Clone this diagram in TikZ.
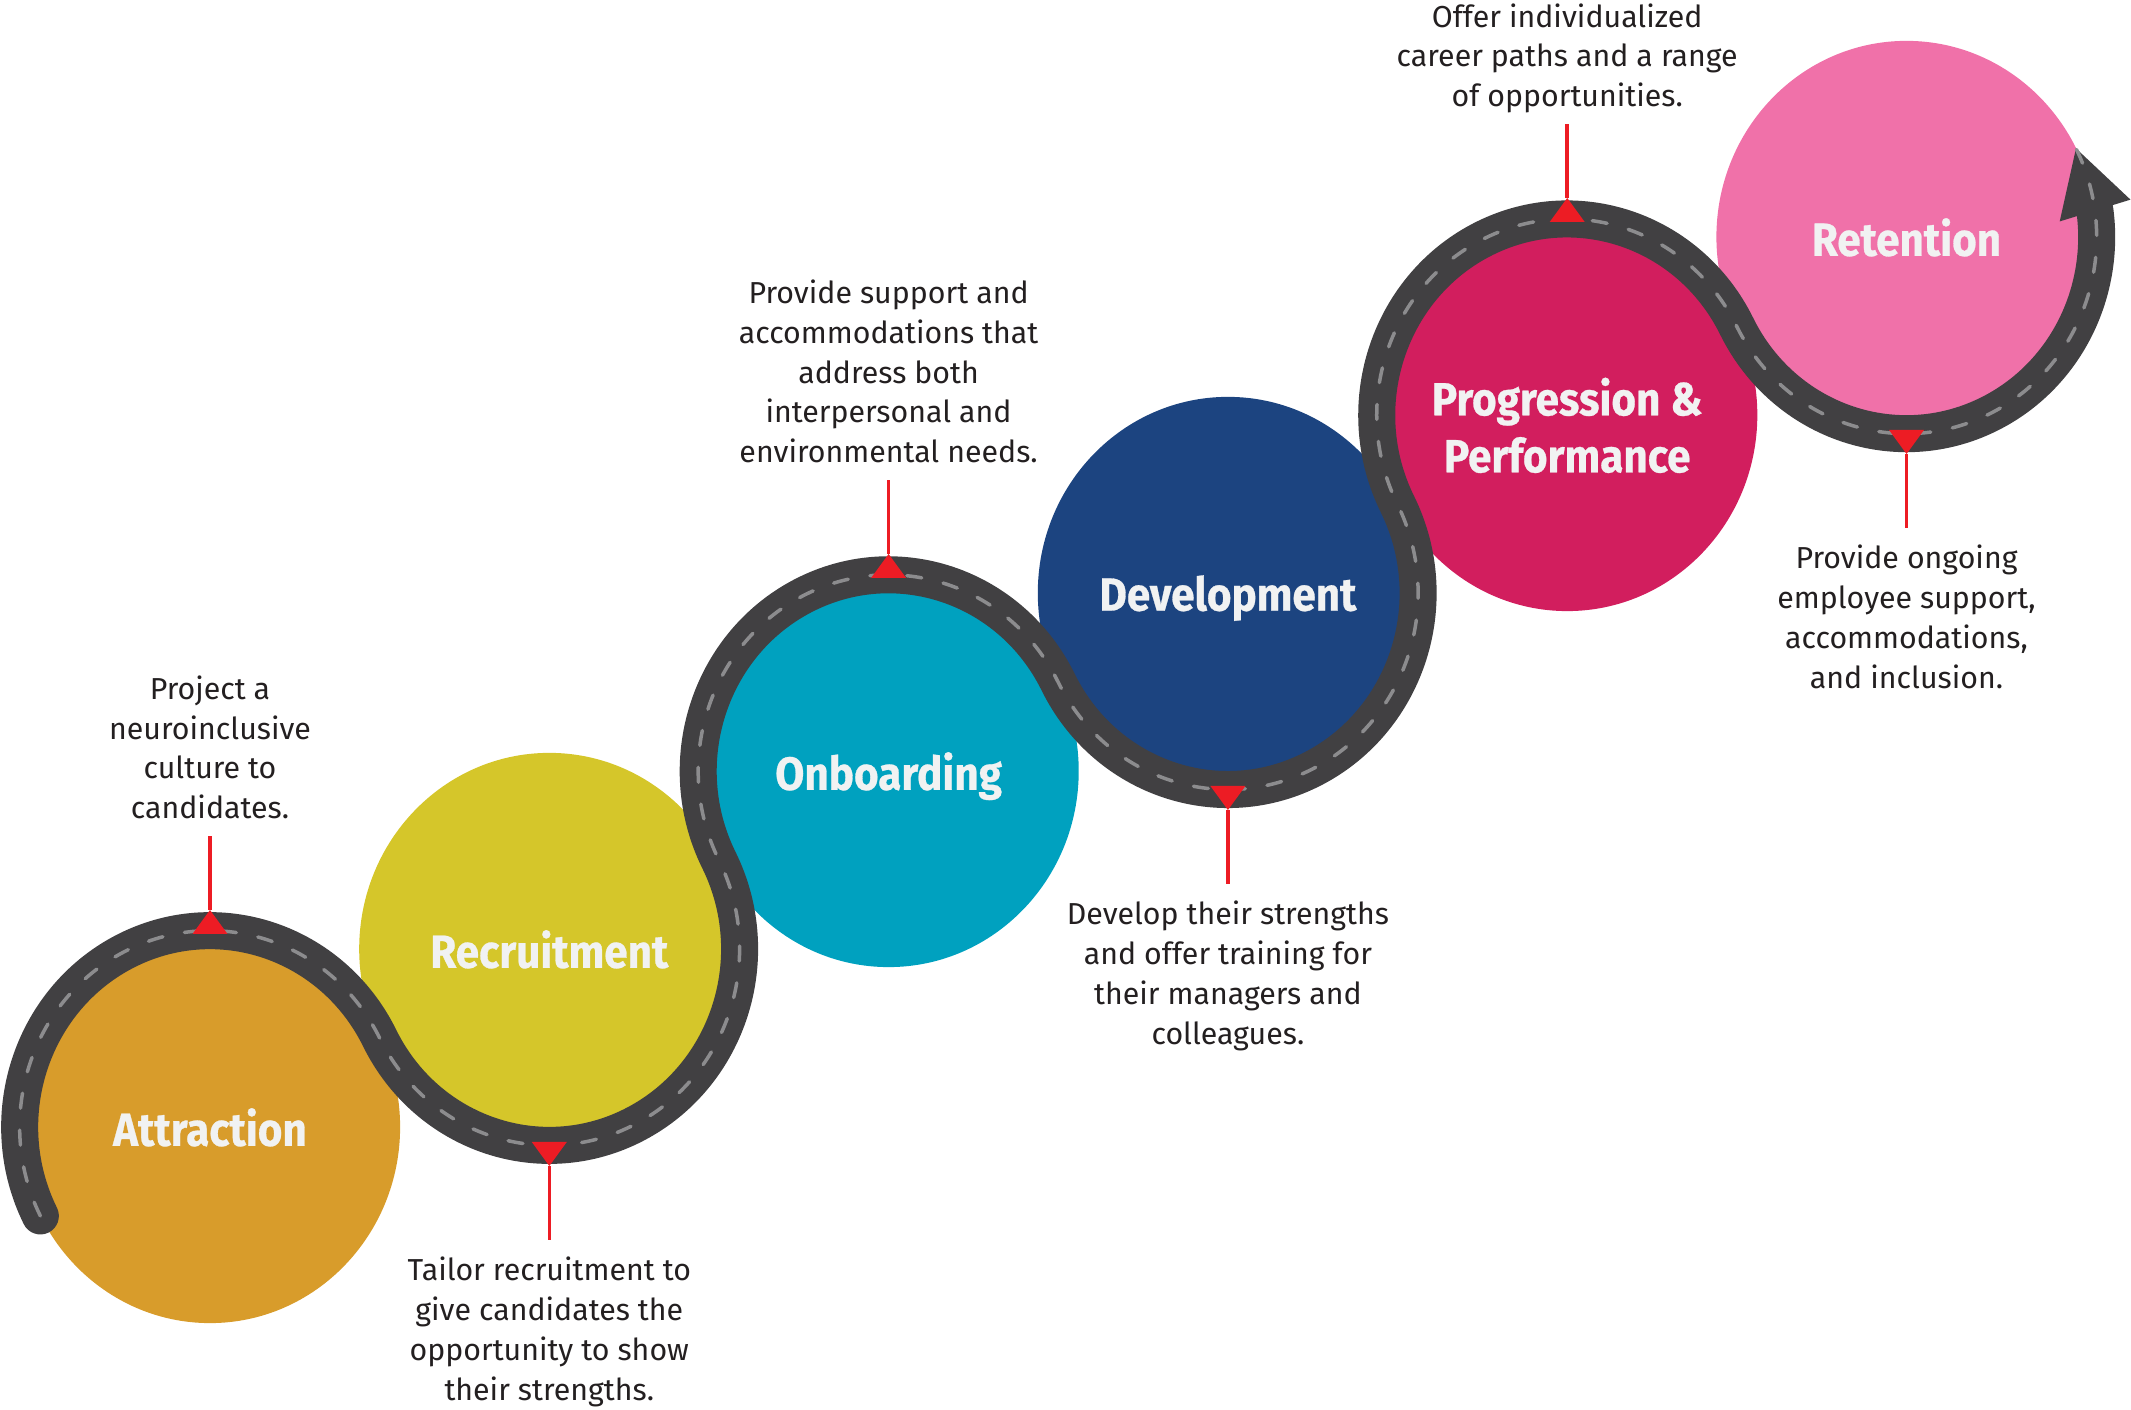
\documentclass[tikz,border=0pt]{standalone}
\usepackage{fontspec}
\setmainfont{Fira Sans}
\newfontfamily\stagefont{Fira Sans}[FakeStretch=0.91,FakeBold=0.6]
\usepackage{tikz}
\usetikzlibrary{arrows.meta,bending,positioning,calc,shapes.geometric}
\definecolor{attraction}{HTML}{D89C2B}
\definecolor{recruitment}{HTML}{D5C62A}
\definecolor{onboarding}{HTML}{00A1BF}
\definecolor{development}{HTML}{1C4480}
\definecolor{progression}{HTML}{D21E5E}
\definecolor{retention}{HTML}{F071A9}
\definecolor{asphalt}{HTML}{414042}
\definecolor{lane}{HTML}{8C8C8E}
\definecolor{pinred}{HTML}{ED1C24}
\definecolor{ink}{HTML}{231F20}
\definecolor{snow}{HTML}{F1F2F2}

\begin{document}
\begin{tikzpicture}[x=0.01cm,y=0.01cm,
  stage/.style={ellipse,minimum width=3.8cm,minimum height=3.92cm,inner sep=0pt},
  caption/.style={text=snow,font=\stagefont\bfseries\fontsize{13.2}{16.2}\selectfont,
                  align=center,text depth=0pt},
  note/.style={text=ink,font=\fontsize{8.62}{11.35}\selectfont,align=center,
               inner xsep=0pt,inner ysep=0.165cm,text depth=0pt},
  road/.style={draw=asphalt,line width=0.37cm,line cap=round,
               postaction={draw=lane,line width=0.035cm,dash pattern=on 0.15cm off 0.22cm,-}},
  over/.style={start angle=206.95,end angle=26.95,x radius=190.3,y radius=196.3},
  under/.style={start angle=206.95,end angle=386.95,x radius=190.3,y radius=196.3},
  pin/.style={draw=pinred,line width=0.035cm},
  marker/.style={fill=pinred}
]
  \useasboundingbox (0,0) rectangle (2131,1410);

  % stages
  \foreach \i/\hue in {1/attraction,2/recruitment,3/onboarding,4/development,5/progression,6/retention}
    \node[stage,fill=\hue] (s\i) at ({210+(\i-1)*339.3},{283+(\i-1)*178}) {};

  % the road
  \draw[road,-{Triangle[length=0.65cm,width=0.74cm,line width=0pt,flex]}]
    ($(s1)+(206.95:190.3 and 196.3)$)
    arc[over] arc[under] arc[over] arc[under] arc[over] arc[under];

  % markers on the road
  \foreach \i in {1,3,5}{
    \coordinate (tip\i) at ($(s\i)+(0,217)$);
    \fill[marker] (tip\i) -- ++(-17.5,-24) -- ++(35,0) -- cycle;
  }
  \foreach \i in {2,4,6}{
    \coordinate (tip\i) at ($(s\i)+(0,-217)$);
    \fill[marker] (tip\i) -- ++(-17.5,24) -- ++(35,0) -- cycle;
  }

  \node[caption] (l1) at (s1) {Attraction};
  \node[caption] (l2) at (s2) {Recruitment};
  \node[caption] (l3) at (s3) {Onboarding};
  \node[caption] (l4) at (s4) {Development};
  \node[caption,yshift=-0.10cm] (l5) at (s5) {Progression \&\\Performance};
  \node[caption] (l6) at (s6) {Retention};

  \node[note,above=0.94cm of s1] (n1) {Project a\\neuroinclusive\\culture to\\candidates.};
  \node[note,below=0.94cm of s2] (n2) {Tailor recruitment to\\give candidates the\\opportunity to show\\their strengths.};
  \node[note,above=0.94cm of s3] (n3) {Provide support and\\accommodations that\\address both\\interpersonal and\\environmental needs.};
  \node[note,below=0.94cm of s4] (n4) {Develop their strengths\\and offer training for\\their managers and\\colleagues.};
  \node[note,above=0.94cm of s5] (n5) {Offer individualized\\career paths and a range\\of opportunities.};
  \node[note,below=0.94cm of s6] (n6) {Provide ongoing\\employee support,\\accommodations,\\and inclusion.};

  \foreach \i in {1,...,6}
    \draw[pin] (tip\i) -- (n\i);
\end{tikzpicture}
\end{document}
